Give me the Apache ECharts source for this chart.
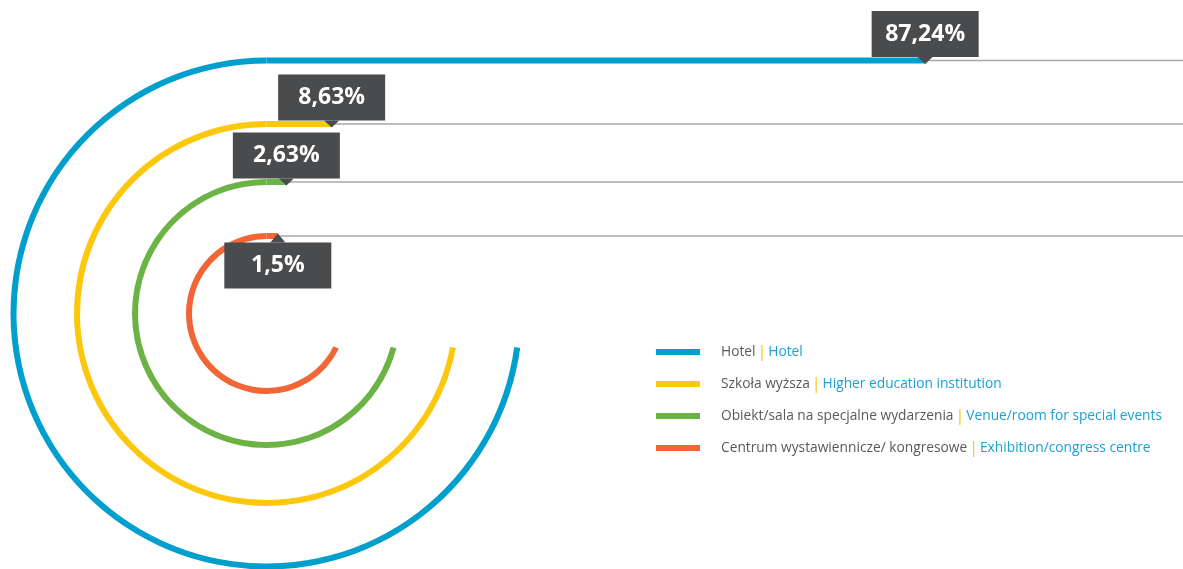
<!DOCTYPE html>
<html>
<head>
<meta charset="utf-8">
<script src="https://cdn.jsdelivr.net/npm/echarts@6/dist/echarts.min.js"></script>
<style>
  html, body { margin: 0; padding: 0; background: #fff; }
  #chart { width: 1183px; height: 569px; }
</style>
</head>
<body>
<div id="chart"></div>
<script>
// dane
const categories = ['Hotel', 'Szkoła wyższa', 'Obiekt/sala na specjalne wydarzenia', 'Centrum wystawiennicze/ kongresowe']
const categoriesEn = ['Hotel', 'Higher education institution', 'Venue/room for special events', 'Exhibition/congress centre']
const shares = [87.24, 8.63, 2.63, 1.5]

// wygląd
const colors = ['#019fcd', '#fdc70c', '#6cb345', '#f26535']
const CX = 266.5          // środek łuków
const CY = 313.5
const radii = [253, 189.5, 131.5, 77.5]
const END_DY = 34         // łuki kończą się na tej samej wysokości pod środkiem
const LINE_W = 6
const PX_PER_PCT = 7.55
const W = 1183
const H = 569
const FONT = '"Open Sans", "Noto Sans", sans-serif'

const chart = echarts.init(document.getElementById('chart'), null, { renderer: 'canvas' })

const xMax = (W - CX) / PX_PER_PCT
const fmtPct = v => String(v).replace('.', ',') + '%'

// jeden układ biegunowy na łuk, żeby promień był dokładny
const polar = radii.map(r => ({ center: [CX, CY], radius: [r - LINE_W / 2, r + LINE_W / 2] }))
const angleAxis = radii.map((r, i) => ({
  polarIndex: i, type: 'value', min: 0, max: 360, startAngle: 90, clockwise: false, show: false
}))
const radiusAxis = radii.map((r, i) => ({
  polarIndex: i, type: 'category', data: [categories[i]], show: false
}))

const arcSeries = radii.map((r, i) => ({
  name: categories[i],
  type: 'bar',
  coordinateSystem: 'polar',
  polarIndex: i,
  barWidth: '100%',
  data: [270 - Math.asin(END_DY / r) * 180 / Math.PI],
  itemStyle: { color: colors[i] },
  silent: true,
  z: 3
}))

const lineSeries = radii.map((r, i) => ({
  name: categories[i],
  type: 'line',
  data: [[0, r], [shares[i], r]],
  symbol: 'none',
  lineStyle: { color: colors[i], width: LINE_W, cap: 'butt' },
  itemStyle: { color: colors[i] },
  silent: true,
  z: 3
}))

const greySeries = radii.map((r, i) => ({
  type: 'line',
  data: [[shares[i], r], [xMax, r]],
  symbol: 'none',
  lineStyle: { color: '#a7a9ac', width: 1.5 },
  silent: true,
  z: 2
}))

const labelSeries = {
  type: 'scatter',
  symbol: 'triangle',
  clip: false,
  silent: true,
  z: 10,
  itemStyle: { color: '#4a4b4d', opacity: 1 },
  label: {
    show: true,
    distance: 0,
    color: '#fff',
    fontFamily: FONT,
    fontWeight: 'bold',
    fontSize: 23,
    lineHeight: 26,
    width: 79,
    align: 'center',
    padding: [10, 14],
    backgroundColor: '#4a4b4d'
  },
  data: radii.map((r, i) => {
    const below = i === radii.length - 1
    return {
      value: [shares[i], r],
      symbolSize: below ? [15, 9] : [15, 7],
      symbolRotate: below ? 0 : 180,
      symbolOffset: below ? [0, 2] : [0, 0],
      label: { position: below ? 'bottom' : 'top', formatter: fmtPct(shares[i]) }
    }
  })
}

const option = {
  animation: false,
  polar,
  angleAxis,
  radiusAxis,
  grid: { left: CX, right: 0, top: 0, bottom: H - CY },
  xAxis: { type: 'value', min: 0, max: xMax, show: false },
  yAxis: { type: 'value', min: 0, max: CY, show: false },
  legend: {
    orient: 'vertical',
    left: 656,
    top: 344,
    padding: 0,
    itemWidth: 44,
    itemHeight: 6,
    itemGap: 16,
    selectedMode: false,
    icon: 'rect',
    data: categories,
    formatter: name => {
      const en = categoriesEn[categories.indexOf(name)]
      return `{pl|${name}}{sep||}{en|${en}}`
    },
    textStyle: {
      fontFamily: FONT,
      fontSize: 13.75,
      lineHeight: 16,
      rich: {
        pl: { color: '#58595b', fontSize: 13.75, fontFamily: FONT, padding: [0, 0, 0, 16] },
        sep: { color: '#fdc70c', fontSize: 16, fontFamily: FONT, padding: [0, 2] },
        en: { color: '#1ba1d4', fontSize: 13.75, fontFamily: FONT }
      }
    }
  },
  series: [...arcSeries, ...greySeries, ...lineSeries, labelSeries]
}

chart.setOption(option)
</script>
</body>
</html>
